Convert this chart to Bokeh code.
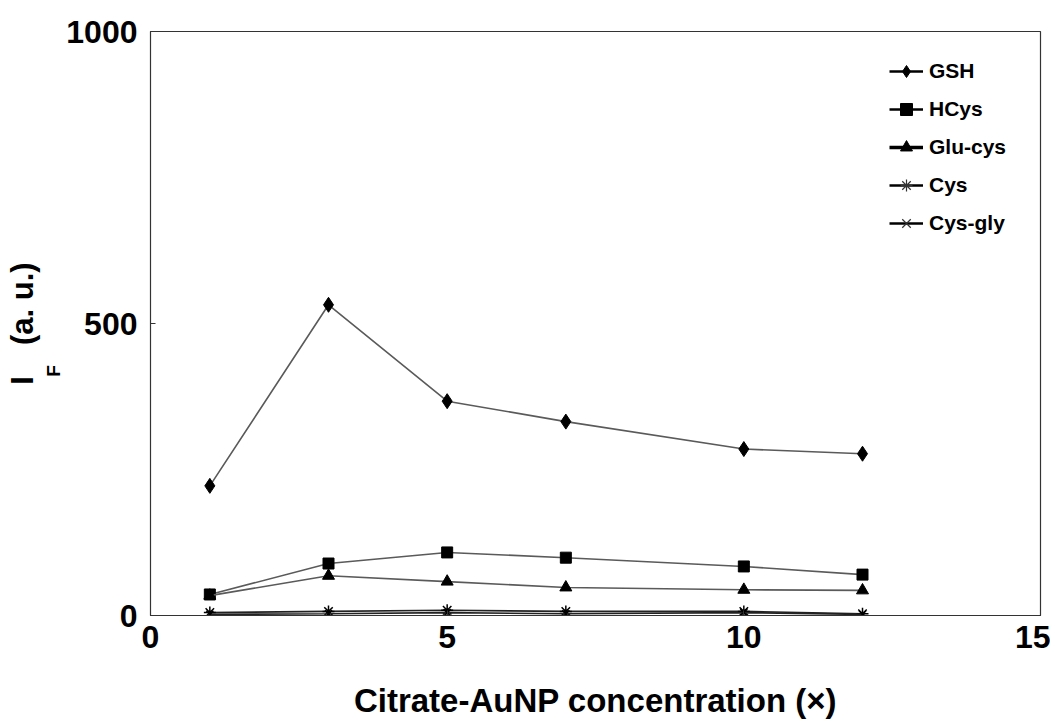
from bokeh.plotting import figure
from bokeh.models import Range1d, FixedTicker, LinearAxis, Legend, LegendItem
from bokeh.embed import file_html
from bokeh.resources import INLINE

conc = [1, 3, 5, 7, 10, 12]
gsh = [222, 532, 367, 332, 285, 277]
hcys = [36, 89, 108, 99, 84, 70]
glucys = [34, 68, 58, 48, 44, 43]
cys = [5, 7, 9, 7, 7, 3]
cysgly = [2, 3, 5, 3, 5, 2]

x_ticks = [0, 5, 10, 15]
y_ticks = [0, 500, 1000]
names = ["GSH", "HCys", "Glu-cys", "Cys", "Cys-gly"]

FONT = "Liberation Sans"

p = figure(width=1050, height=725, output_backend="svg", toolbar_location=None,
           x_range=Range1d(0, 15), y_range=Range1d(0, 1000),
           min_border_left=150, min_border_right=10, min_border_top=31, min_border_bottom=110)
p.grid.visible = False
p.outline_line_color = "#333333"
p.outline_line_width = 1.2
p.background_fill_color = "white"
p.border_fill_color = "white"

for ax in (p.xaxis[0], p.yaxis[0]):
    ax.major_label_text_font = FONT
    ax.major_label_text_font_style = "bold"
    ax.major_label_text_font_size = "32px"
    ax.major_label_text_color = "black"
    ax.major_tick_in = 5
    ax.major_tick_out = 0
    ax.minor_tick_in = 0
    ax.minor_tick_out = 0
    ax.axis_line_color = "#333333"
    ax.major_tick_line_color = "#333333"

p.xaxis.ticker = FixedTicker(ticks=x_ticks)
p.yaxis.ticker = FixedTicker(ticks=y_ticks)
p.xaxis.major_label_standoff = 10
p.yaxis.major_label_standoff = 13

p.xaxis.axis_label = "Citrate-AuNP concentration (\u00d7)"
p.xaxis.axis_label_text_font = FONT
p.xaxis.axis_label_text_font_style = "bold"
p.xaxis.axis_label_text_font_size = "33px"
p.xaxis.axis_label_text_color = "black"
p.xaxis.axis_label_standoff = 31


def label_axis(text, size, standoff):
    ax = LinearAxis(ticker=FixedTicker(ticks=[]), axis_label=text,
                    axis_line_color=None, major_tick_line_color=None, minor_tick_line_color=None,
                    major_tick_in=0, major_tick_out=0, minor_tick_in=0, minor_tick_out=0,
                    axis_label_text_font=FONT, axis_label_text_font_style="bold",
                    axis_label_text_font_size=size, axis_label_text_color="black",
                    axis_label_standoff=standoff)
    p.add_layout(ax, "left")
    return ax


# y-axis title "I_F (a. u.)": subscript on an inner axis (padded with en spaces
# so it sits right after the "I"), main text on an outer one
label_axis("F" + "\u2002" * 10, "19px", 0)
label_axis("I\u2002\u2002(a. u.)", "31px", 0)

line_col = "#5a5a5a"
p.line(conc, gsh, line_color=line_col, line_width=1.6)
p.scatter(conc, gsh, marker="diamond", size=15, color="black")
p.line(conc, hcys, line_color=line_col, line_width=1.6)
p.scatter(conc, hcys, marker="square", size=11, color="black")
p.line(conc, glucys, line_color=line_col, line_width=1.6)
p.scatter(conc, glucys, marker="triangle", size=12, color="black")
p.line(conc, cys, line_color="#222222", line_width=1.6)
p.scatter(conc, cys, marker="asterisk", size=12, line_color="black", line_width=1.5)
p.line(conc, cysgly, line_color="#222222", line_width=1.6)
p.scatter(conc, cysgly, marker="x", size=10, line_color="black", line_width=1.5)

# legend-only glyphs (smaller markers, black lines as in the reference key)
nan = float("nan")
lg = []
for mk, sz, lw in [("diamond", 10, 2.5), ("square", 8, 2.5), ("triangle", 9, 3.5),
                   ("asterisk", 9, 2.5), ("x", 8, 2.5)]:
    ln = p.line([nan], [nan], line_color="black", line_width=lw)
    if mk in ("asterisk", "x"):
        sc = p.scatter([nan], [nan], marker=mk, size=sz, line_color="#333333", line_width=1.2)
    else:
        sc = p.scatter([nan], [nan], marker=mk, size=sz, color="black")
    lg.append([ln, sc])

legend = Legend(items=[LegendItem(label=n, renderers=r) for n, r in zip(names, lg)],
                location=(739, 377), border_line_alpha=0, background_fill_alpha=0,
                label_text_font=FONT, label_text_font_style="bold", label_text_color="black",
                label_text_font_size="21px", glyph_width=34, glyph_height=30,
                spacing=8, padding=0, margin=0, label_standoff=6)
p.add_layout(legend, "center")

open("out.html", "w").write(file_html(p, INLINE))
